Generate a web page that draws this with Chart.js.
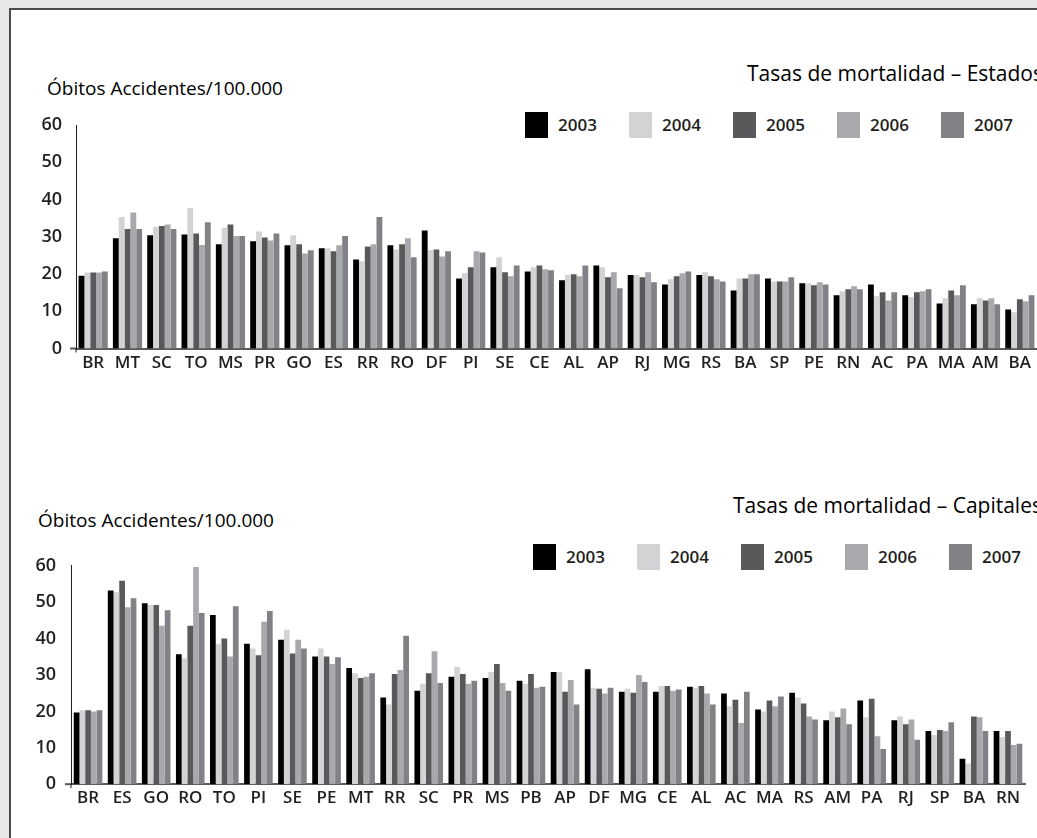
<!DOCTYPE html>
<html>
<head>
<meta charset="utf-8">
<script src="https://cdn.jsdelivr.net/npm/chart.js@4/dist/chart.umd.min.js"></script>
<style>
  body { margin: 0; background: #e6e7e8; width: 1037px; height: 838px; overflow: hidden; position: relative; font-family: "Open Sans", sans-serif; color: #231f20; }
  #panel { position: absolute; left: 9px; top: 8px; width: 1100px; height: 900px; background: #fff; border: 2px solid #4d4d4f; }
  canvas { position: absolute; left: 0; }
  .t { position: absolute; white-space: nowrap; font-size: 19px; line-height: 24px; color: #000; }
  .t.r { font-size: 21px; }
  .lg { position: absolute; height: 26px; font-size: 17px; font-weight: 600; line-height: 26px; white-space: nowrap; }
  .lg span { display: inline-block; width: 23px; height: 26px; vertical-align: top; margin-right: 10px; }
</style>
</head>
<body>
<div id="panel"></div>

<div class="t" style="left:47px; top:76px;">Óbitos Accidentes/100.000</div>
<div class="t r" style="left:747px; top:61px;">Tasas de mortalidad – Estados</div>
<div class="t" style="left:38px; top:508px;">Óbitos Accidentes/100.000</div>
<div class="t r" style="left:733px; top:493px;">Tasas de mortalidad – Capitales</div>

<div id="legend1"></div>
<div id="legend2"></div>

<canvas id="estados" style="top:100px"></canvas>
<canvas id="capitales" style="top:540px"></canvas>

<script>
// years + colours
const years = ['2003', '2004', '2005', '2006', '2007'];
const colors = ['#000000', '#d1d3d4', '#58595b', '#a7a9ac', '#808285'];

// Estados
const estados = ['BR','MT','SC','TO','MS','PR','GO','ES','RR','RO','DF','PI','SE','CE','AL','AP','RJ','MG','RS','BA','SP','PE','RN','AC','PA','MA','AM','BA'];
const est2003 = [19.5,29.6,30.4,30.6,28.0,28.8,27.7,26.9,23.9,27.7,31.7,18.8,21.8,20.7,18.3,22.3,19.7,17.2,19.7,15.6,18.8,17.5,14.3,17.2,14.3,12.1,11.9,10.5];
const est2004 = [20.4,35.3,32.6,37.7,32.4,31.4,30.4,26.9,23.4,26.6,26.4,20.2,24.5,21.8,19.7,21.8,19.7,18.6,20.5,18.8,18.0,17.5,15.4,14.0,13.8,13.5,13.5,9.7];
const est2005 = [20.4,32.1,32.9,30.9,33.3,29.8,28.0,26.1,27.4,28.0,26.6,21.8,20.5,22.3,19.9,19.1,19.1,19.4,19.4,18.8,18.0,17.0,15.9,15.1,15.1,15.6,12.9,13.2];
const est2006 = [20.4,36.5,33.3,27.8,30.2,29.0,25.5,27.7,28.0,29.6,24.7,26.1,19.4,21.3,19.4,20.5,20.5,20.2,18.6,19.9,18.0,17.8,16.7,12.9,15.4,14.3,13.5,12.7];
const est2007 = [20.7,32.1,32.1,33.9,30.2,30.9,26.4,30.2,35.3,24.5,26.1,25.8,22.3,21.0,22.3,16.2,17.8,20.7,18.0,19.9,19.1,17.2,15.9,15.1,15.9,17.0,11.9,14.3];

// Capitales
const capitales = ['BR','ES','GO','RO','TO','PI','SE','PE','MT','RR','SC','PR','MS','PB','AP','DF','MG','CE','AL','AC','MA','RS','AM','PA','RJ','SP','BA','RN'];
const cap2003 = [19.7,53.2,49.7,35.7,46.5,38.6,39.7,35.1,31.9,23.8,25.7,29.5,29.2,28.4,30.8,31.6,25.4,25.4,26.8,24.9,20.5,25.1,17.6,23.0,17.6,14.6,7.0,14.6];
const cap2004 = [20.3,52.7,49.2,34.6,38.6,37.3,42.4,37.3,30.5,21.9,27.6,32.2,30.8,27.6,30.8,26.5,26.2,27.0,26.5,21.4,20.0,23.8,20.0,18.4,18.6,13.5,5.7,13.0];
const cap2005 = [20.3,55.9,49.2,43.5,40.0,35.4,35.9,35.1,29.2,30.3,30.5,30.3,33.0,30.3,25.4,26.2,25.1,27.0,27.0,23.2,23.0,22.2,18.4,23.5,16.5,14.9,18.6,14.6];
const cap2006 = [20.0,48.6,43.5,59.7,35.1,44.6,39.7,33.0,29.5,31.4,36.5,27.6,27.8,26.5,28.6,24.9,30.0,25.7,24.9,16.8,21.4,18.6,20.8,13.2,17.8,14.6,18.4,10.8];
const cap2007 = [20.3,51.1,47.8,47.0,48.9,47.6,37.3,34.9,30.5,40.8,27.8,28.4,25.7,26.8,21.9,26.5,28.1,26.0,21.9,25.4,24.1,17.8,16.5,9.7,12.2,17.0,14.6,11.1];

const yTicks = [0, 10, 20, 30, 40, 50, 60];

// html legend from the same arrays
function legend(id, left, top) {
  const el = document.getElementById(id);
  years.forEach(function (y, i) {
    const d = document.createElement('div');
    d.className = 'lg';
    d.style.left = (left + i * 104) + 'px';
    d.style.top = top + 'px';
    d.innerHTML = '<span style="background:' + colors[i] + '"></span>' + y;
    el.appendChild(d);
  });
}
legend('legend1', 525, 112);
legend('legend2', 533, 544);

// little cross at the origin
const originCross = {
  id: 'originCross',
  afterDraw(chart) {
    const c = chart.ctx, a = chart.chartArea;
    const y0 = chart.scales.y.getPixelForValue(0);
    c.save();
    c.strokeStyle = '#58595b';
    c.lineWidth = 2;
    c.beginPath();
    c.moveTo(a.left - 6, y0);
    c.lineTo(a.left, y0);
    c.stroke();
    c.strokeStyle = '#231f20';
    c.lineWidth = 1;
    c.beginPath();
    c.moveTo(a.left, y0);
    c.lineTo(a.left, y0 + 4);
    c.stroke();
    c.restore();
  }
};

function makeChart(id, labels, series, o) {
  const cv = document.getElementById(id);
  cv.width = 1037;
  cv.height = o.h;
  return new Chart(cv, {
    type: 'bar',
    data: {
      labels: labels,
      datasets: series.map(function (d, i) {
        return {
          label: years[i],
          data: d,
          backgroundColor: colors[i],
          borderWidth: 0,
          barPercentage: 1.0,
          categoryPercentage: o.cat
        };
      })
    },
    options: {
      responsive: false,
      animation: false,
      layout: { padding: { top: o.top, left: 0, right: o.right, bottom: 0 } },
      plugins: { legend: { display: false }, tooltip: { enabled: false } },
      scales: {
        x: {
          grid: { display: false, drawTicks: false },
          border: { display: true, color: '#58595b', width: 2 },
          ticks: { color: '#231f20', padding: o.xpad, maxRotation: 0, autoSkip: false,
                   font: { family: 'Open Sans', size: 17, weight: '600' } },
          afterFit: function (s) { s.height = o.xh; }
        },
        y: {
          min: 0, max: 60,
          afterBuildTicks: function (s) { s.ticks = yTicks.map(function (v) { return { value: v }; }); },
          grid: { display: false, drawTicks: false },
          border: { display: true, color: '#231f20', width: 1 },
          ticks: { color: '#231f20', padding: o.ypad,
                   font: { family: 'Open Sans', size: 18, weight: '600' } },
          afterFit: function (s) { s.width = o.yw; }
        }
      }
    },
    plugins: [originCross]
  });
}

makeChart('estados', estados, [est2003, est2004, est2005, est2006, est2007],
  { h: 280, cat: 0.85, top: 25, right: 0, xh: 31.5, xpad: 4, yw: 76, ypad: 14 });
makeChart('capitales', capitales, [cap2003, cap2004, cap2005, cap2006, cap2007],
  { h: 270, cat: 0.84, top: 24, right: 12, xh: 24, xpad: 4, yw: 71, ypad: 15 });
</script>
</body>
</html>
